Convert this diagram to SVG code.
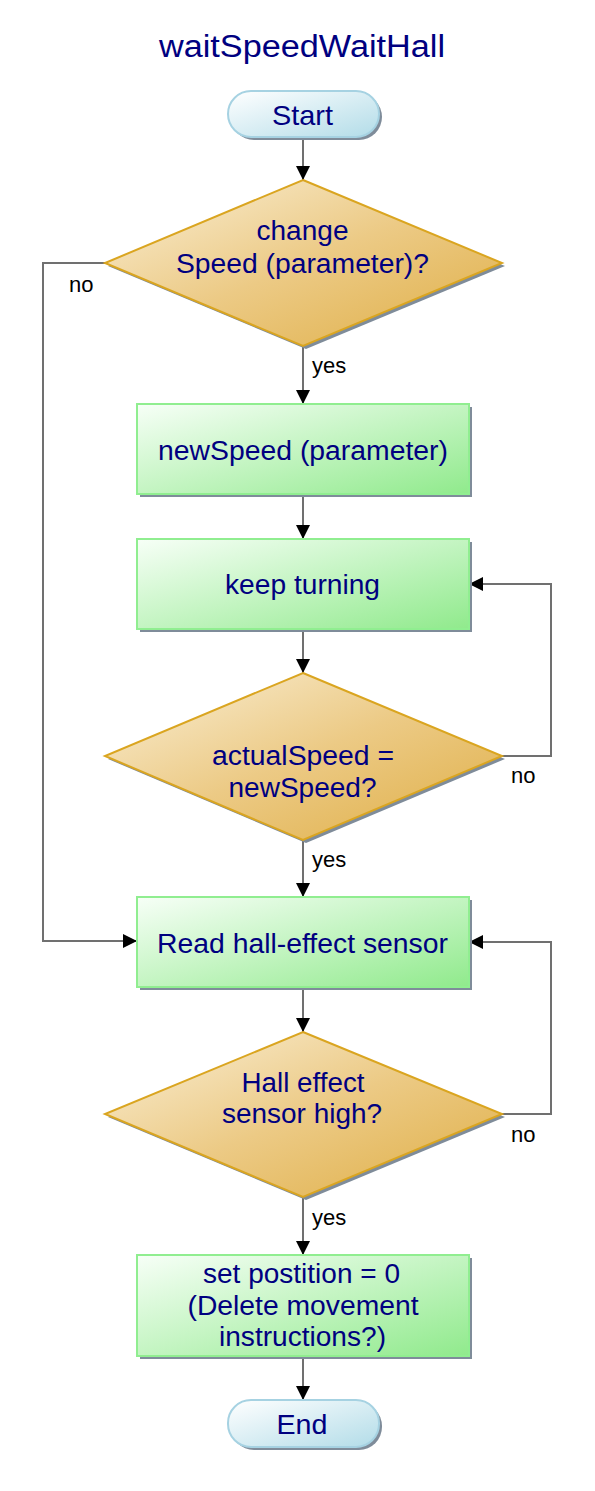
<svg xmlns="http://www.w3.org/2000/svg" width="595" height="1491" viewBox="0 0 595 1491">
<style>
.t{font-family:"Liberation Sans",Arial,sans-serif;fill:#000080;text-anchor:middle;font-size:27px}
.tt{font-size:28px}
.title{font-size:31px}
.lbl{font-family:"Liberation Sans",Arial,sans-serif;fill:#000;font-size:22px}
.proc{fill:url(#gG);stroke:#90ee90;stroke-width:2}
.dec{fill:url(#gY);stroke:#daa520;stroke-width:2}
.term{fill:url(#gB);stroke:#a6d2e2;stroke-width:2}
.sh{fill:#7f8c9a}
.c{fill:none;stroke:#707070;stroke-width:2}
.ca{marker-end:url(#ah)}
</style>
<defs>
<linearGradient id="gG" x1="0" y1="0" x2="1" y2="1"><stop offset="0" stop-color="#f7fff7"/><stop offset="1" stop-color="#90ea8c"/></linearGradient>
<linearGradient id="gY" x1="0" y1="0" x2="1" y2="1"><stop offset="0" stop-color="#faf0d8"/><stop offset="0.5" stop-color="#ecca85"/><stop offset="1" stop-color="#dfae45"/></linearGradient>
<linearGradient id="gB" x1="0" y1="0" x2="1" y2="1"><stop offset="0" stop-color="#ffffff"/><stop offset="1" stop-color="#b2dce8"/></linearGradient>
<marker id="ah" markerUnits="userSpaceOnUse" markerWidth="14" markerHeight="14" refX="14" refY="7" orient="auto" viewBox="0 0 14 14"><path d="M0,0 L14,7 L0,14 z" fill="#000"/></marker>
</defs>
<text class="t title" x="302" y="57" textLength="286" lengthAdjust="spacingAndGlyphs">waitSpeedWaitHall</text>
<g id="connectors">
<path class="c ca" d="M303,137 V180"/>
<path class="c ca" d="M303,346 V404"/>
<path class="c ca" d="M303,494 V539"/>
<path class="c ca" d="M303,629 V673"/>
<path class="c ca" d="M303,840 V897"/>
<path class="c ca" d="M303,987 V1032"/>
<path class="c ca" d="M303,1197 V1255"/>
<path class="c ca" d="M303,1356 V1400"/>
<path class="c ca" d="M105,263 H43 V941 H137"/>
<path class="c ca" d="M502,756 H551 V584 H469"/>
<path class="c ca" d="M502,1114 H551 V942 H469"/>
<text class="lbl" x="69" y="292">no</text>
<text class="lbl" x="312" y="373">yes</text>
<text class="lbl" x="511" y="783">no</text>
<text class="lbl" x="312" y="867">yes</text>
<text class="lbl" x="511" y="1142">no</text>
<text class="lbl" x="312" y="1225">yes</text>
</g>
<g id="start">
<rect class="sh" x="231" y="94" width="151" height="46" rx="23"/>
<rect class="term" x="228" y="91" width="151" height="46" rx="23"/>
<text class="t tt" x="302.5" y="125" textLength="61" lengthAdjust="spacingAndGlyphs">Start</text>
</g>
<g id="d1">
<polygon class="sh" points="306,183 505,266 306,349 108,266"/>
<polygon class="dec" points="303,180 502,263 303,346 105,263"/>
<text class="t" x="302.5" y="240" textLength="92" lengthAdjust="spacingAndGlyphs">change</text>
<text class="t" x="302.5" y="272.5" textLength="253" lengthAdjust="spacingAndGlyphs">Speed (parameter)?</text>
</g>
<g id="p1">
<rect class="sh" x="140" y="407" width="332" height="90"/>
<rect class="proc" x="137" y="404" width="332" height="90"/>
<text class="t" x="303" y="460" textLength="290" lengthAdjust="spacingAndGlyphs">newSpeed (parameter)</text>
</g>
<g id="p2">
<rect class="sh" x="140" y="542" width="332" height="90"/>
<rect class="proc" x="137" y="539" width="332" height="90"/>
<text class="t" x="302.5" y="594" textLength="155" lengthAdjust="spacingAndGlyphs">keep turning</text>
</g>
<g id="d2">
<polygon class="sh" points="306,676 505,759 306,843 108,759"/>
<polygon class="dec" points="303,673 502,756 303,840 105,756"/>
<text class="t" x="303" y="765" textLength="182" lengthAdjust="spacingAndGlyphs">actualSpeed =</text>
<text class="t" x="302.5" y="796.5" textLength="148" lengthAdjust="spacingAndGlyphs">newSpeed?</text>
</g>
<g id="p3">
<rect class="sh" x="140" y="900" width="332" height="90"/>
<rect class="proc" x="137" y="897" width="332" height="90"/>
<text class="t" x="302.5" y="952.5" textLength="291" lengthAdjust="spacingAndGlyphs">Read hall-effect sensor</text>
</g>
<g id="d3">
<polygon class="sh" points="306,1035 505,1117 306,1200 108,1117"/>
<polygon class="dec" points="303,1032 502,1114 303,1197 105,1114"/>
<text class="t" x="303" y="1092" textLength="123" lengthAdjust="spacingAndGlyphs">Hall effect</text>
<text class="t" x="302" y="1123" textLength="160" lengthAdjust="spacingAndGlyphs">sensor high?</text>
</g>
<g id="p4">
<rect class="sh" x="140" y="1258" width="332" height="101"/>
<rect class="proc" x="137" y="1255" width="332" height="101"/>
<text class="t" x="301.5" y="1283" textLength="197" lengthAdjust="spacingAndGlyphs">set postition = 0</text>
<text class="t" x="303" y="1314.5" textLength="231" lengthAdjust="spacingAndGlyphs">(Delete movement</text>
<text class="t" x="302.5" y="1346" textLength="167" lengthAdjust="spacingAndGlyphs">instructions?)</text>
</g>
<g id="end">
<rect class="sh" x="231" y="1403" width="151" height="47" rx="23"/>
<rect class="term" x="228" y="1400" width="151" height="47" rx="23"/>
<text class="t tt" x="302" y="1434" textLength="51" lengthAdjust="spacingAndGlyphs">End</text>
</g>
</svg>
